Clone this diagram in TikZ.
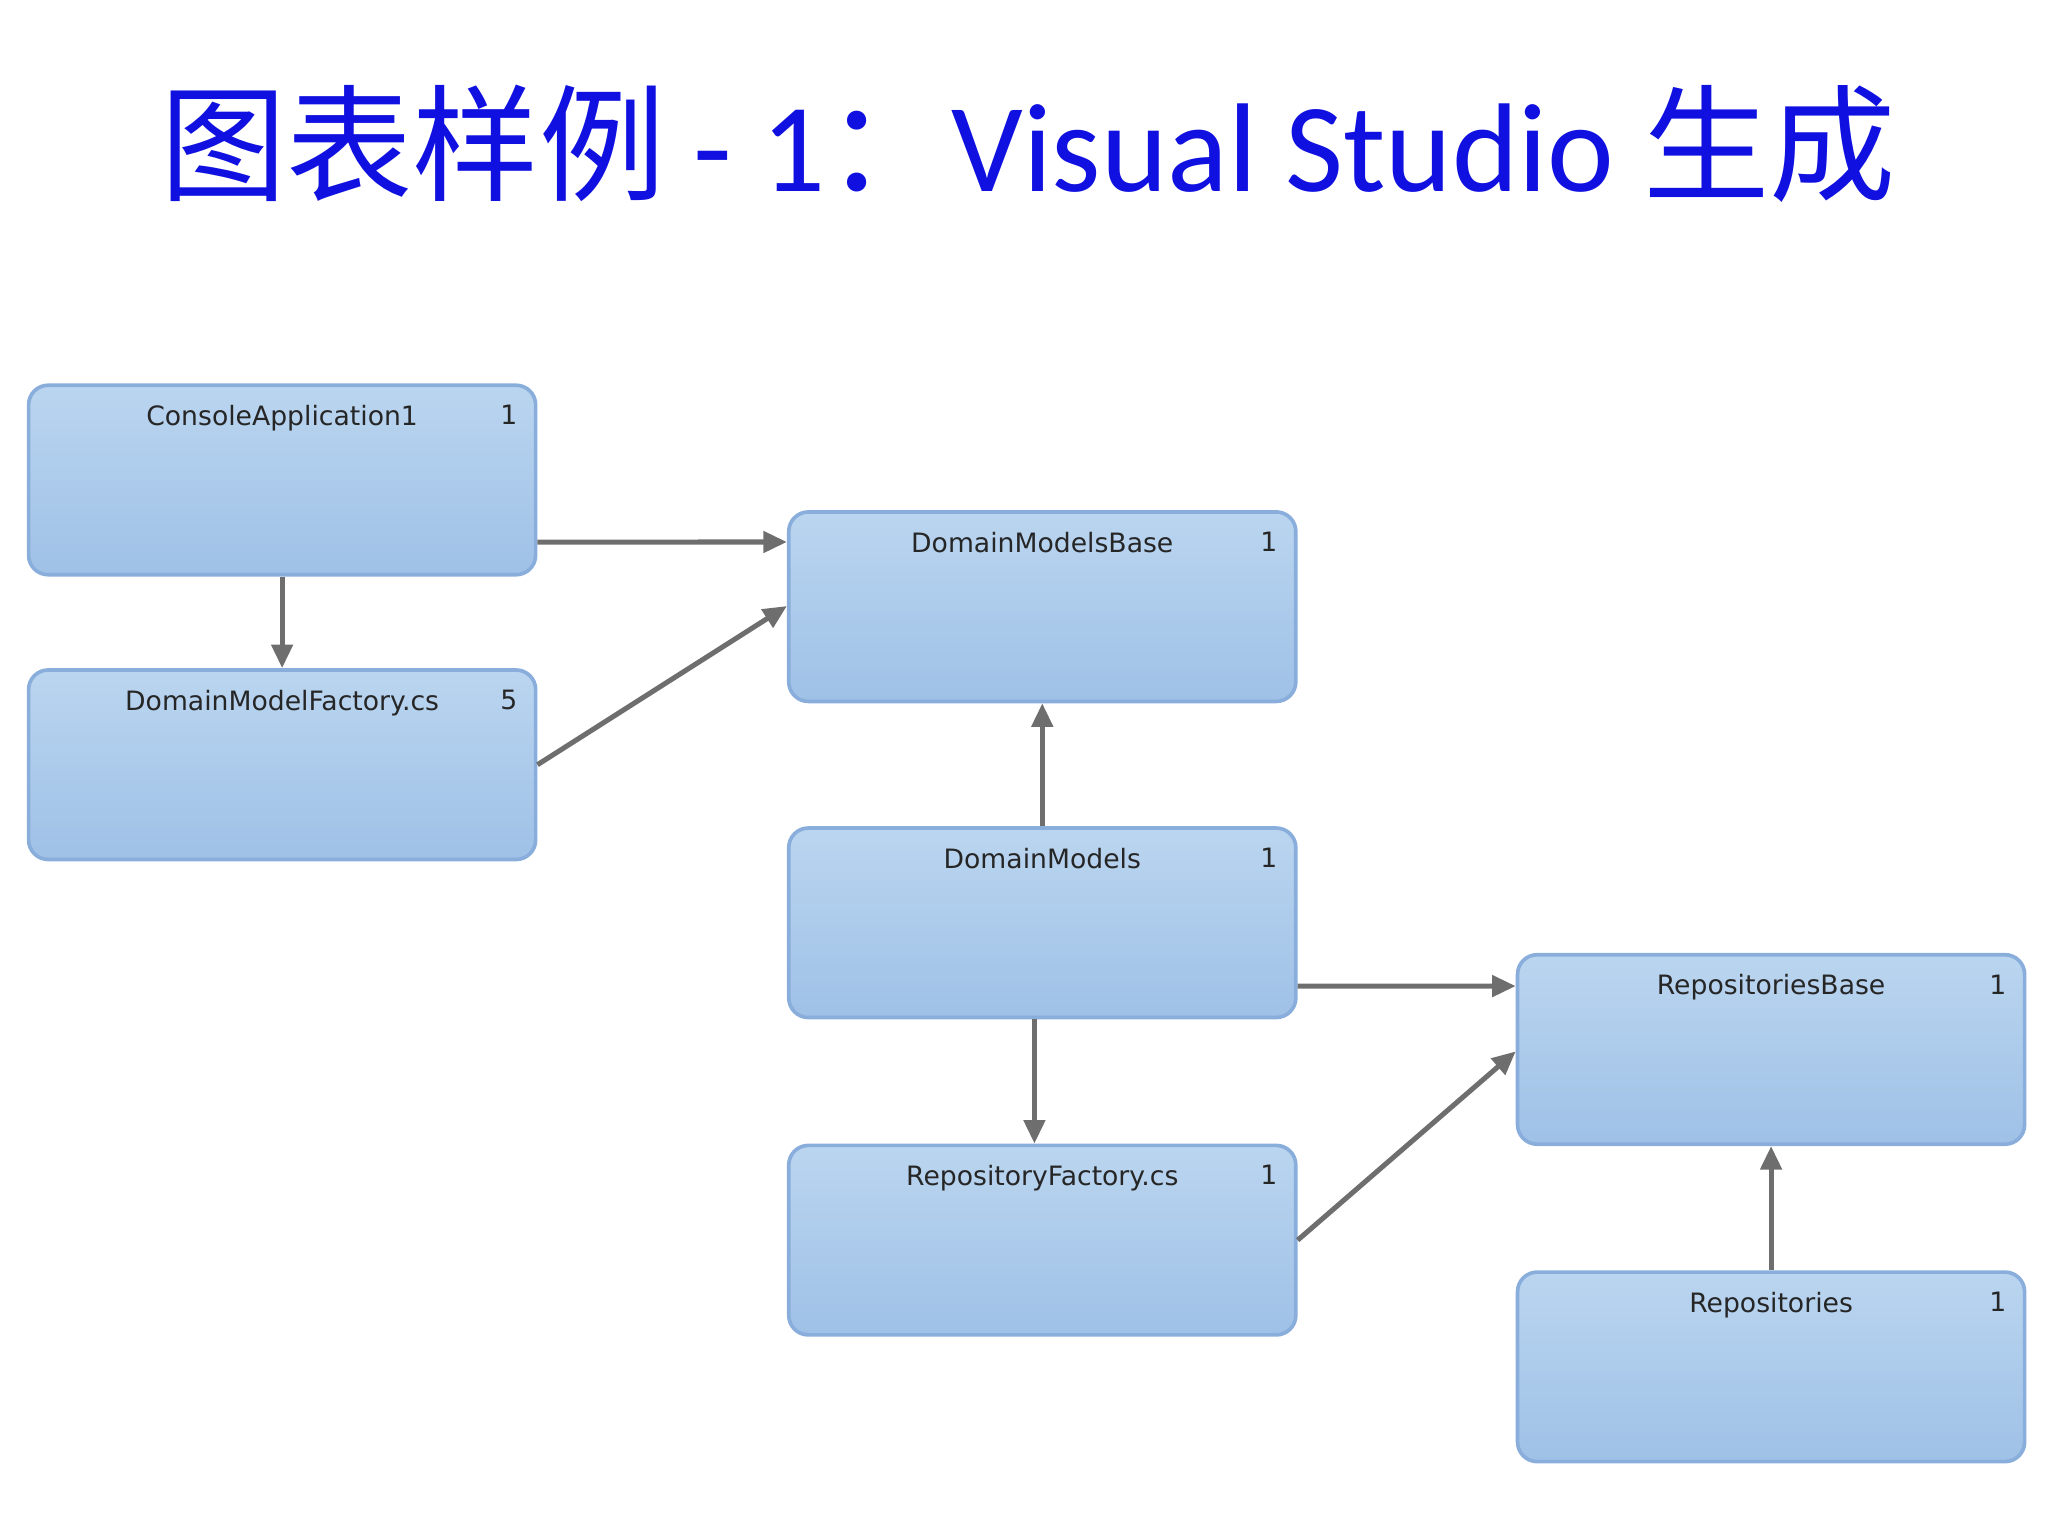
\documentclass[tikz,border=0pt]{standalone}
\usepackage{fontspec}
\setmainfont{Carlito}
\newfontfamily\cjk{Noto Sans CJK SC}
\newfontfamily\boxfont{DejaVu Sans}
\usetikzlibrary{arrows.meta}
\definecolor{ttl}{HTML}{1010E0}
\definecolor{btop}{HTML}{BAD5EF}
\definecolor{bbot}{HTML}{9FC1E7}
\definecolor{bdr}{HTML}{8AAEDC}
\definecolor{arr}{HTML}{6E6E6E}
\tikzset{
  bx/.style={draw=bdr,line width=0.8pt,rounded corners=0.15cm,top color=btop,bottom color=bbot,
    minimum width=3.88cm,minimum height=1.45cm,inner sep=0pt},
  lbl/.style={font=\boxfont\fontsize{5.8}{7}\selectfont,text=black!85,anchor=north,inner sep=0pt},
  ar/.style={draw=arr,line width=1.1pt,-{Triangle[length=0.18cm,width=0.16cm]}}
}
\newcommand{\mybox}[5]{%
  \node[bx] (#1) at (#2,#3) {};
  \node[lbl] (#1l) at ([yshift=-0.16cm]#1.north) {#4};
  \node[lbl] (#1n) at ([xshift=-0.22cm,yshift=-0.16cm]#1.north east) {#5};
}
\begin{document}
\begin{tikzpicture}[x=0.01cm,y=-0.01cm]
\useasboundingbox (0,0) rectangle (1568,1176);
\node[text=ttl,font=\fontsize{27.5}{32}\selectfont] (title) at (787,110) {{\cjk 图表样例} - 1{\cjk ：}Visual Studio {\cjk 生成}};
\mybox{ca}{216}{367.5}{ConsoleApplication1}{1}
\mybox{dmf}{216}{585.5}{DomainModelFactory.cs}{5}
\mybox{dmb}{798}{464.5}{DomainModelsBase}{1}
\mybox{dm}{798}{706.5}{DomainModels}{1}
\mybox{rf}{798}{949.5}{RepositoryFactory.cs}{1}
\mybox{rb}{1356}{803.5}{RepositoriesBase}{1}
\mybox{rp}{1356}{1046.5}{Repositories}{1}
\draw[ar] ([yshift=-0.475cm]ca.east) -- ([yshift=0.495cm]dmb.west);
\draw[ar] (ca.south) -- (dmf.north);
\draw[ar] (dmf.east) -- ([yshift=0.005cm]dmb.west);
\draw[ar] (dm.north) -- (dmb.south);
\draw[ar] ([yshift=-0.485cm]dm.east) -- ([yshift=0.485cm]rb.west);
\draw[ar] ([xshift=-0.06cm]dm.south) -- ([xshift=-0.06cm]rf.north);
\draw[ar] (rf.east) -- ([yshift=-0.015cm]rb.west);
\draw[ar] (rp.north) -- (rb.south);
\end{tikzpicture}
\end{document}
